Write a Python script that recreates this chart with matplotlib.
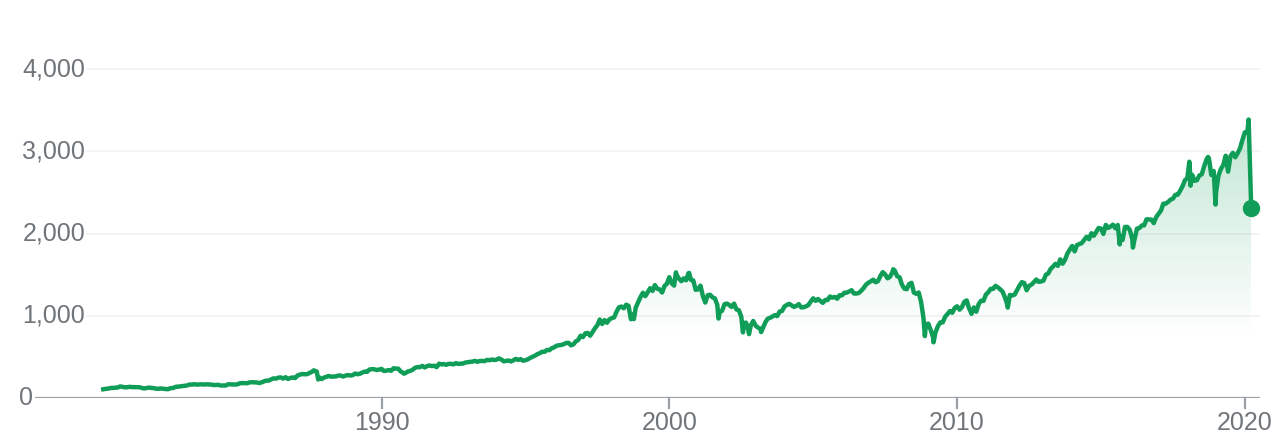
import numpy as np
import matplotlib.pyplot as plt
from matplotlib.path import Path
from matplotlib.patches import PathPatch

# Monthly closes (S&P 500 index), one row per year
start_year = 1980
monthly = [
    [114.2, 113.7, 102.1, 106.3, 111.2, 114.2, 121.7, 122.4, 125.5, 127.5, 140.5, 135.8],
    [129.6, 131.3, 136.0, 132.8, 132.6, 131.2, 130.9, 122.8, 116.2, 121.9, 126.4, 122.6],
    [120.4, 113.1, 112.0, 116.4, 111.9, 109.6, 107.1, 119.5, 120.4, 133.7, 138.5, 140.6],
    [145.3, 148.1, 153.0, 164.4, 162.4, 168.1, 162.6, 164.4, 166.1, 163.6, 166.4, 164.9],
    [163.4, 157.1, 159.2, 160.1, 150.6, 153.2, 150.7, 166.7, 166.1, 166.1, 163.6, 167.2],
    [179.6, 181.2, 180.7, 179.8, 189.6, 191.9, 190.9, 188.6, 182.1, 189.8, 202.2, 211.3],
    [211.8, 226.9, 238.9, 235.5, 247.4, 250.8, 236.1, 252.9, 231.3, 244.0, 249.2, 242.2],
    [274.1, 284.2, 291.7, 288.4, 290.1, 304.0, 318.7, 329.8, 321.8, 251.8, 230.3, 247.1],
    [257.1, 267.8, 258.9, 261.3, 262.2, 273.5, 272.0, 261.5, 271.9, 279.0, 273.7, 277.7],
    [297.5, 288.9, 294.9, 309.6, 320.5, 318.0, 346.1, 351.5, 349.2, 340.4, 346.0, 353.4],
    [329.1, 331.9, 339.9, 330.8, 361.2, 358.0, 356.2, 322.6, 306.1, 304.0, 322.2, 330.2],
    [343.9, 367.1, 375.2, 375.4, 389.8, 371.2, 387.8, 395.4, 387.9, 392.5, 375.2, 417.1],
    [408.8, 412.7, 403.7, 415.0, 415.4, 408.1, 424.2, 414.0, 417.8, 418.7, 431.4, 435.7],
    [438.8, 443.4, 451.7, 440.2, 450.2, 450.5, 448.1, 463.6, 458.9, 467.8, 461.8, 466.5],
    [481.6, 467.1, 445.8, 450.9, 456.5, 444.3, 458.3, 475.5, 462.7, 472.4, 453.7, 459.3],
    [470.4, 487.4, 500.7, 514.7, 533.4, 544.8, 562.1, 561.9, 584.4, 581.5, 605.4, 615.9],
    [636.0, 640.4, 645.5, 654.2, 669.1, 670.6, 640.0, 652.0, 687.3, 705.3, 757.0, 740.7],
    [786.2, 790.8, 757.1, 801.3, 848.3, 885.1, 954.3, 899.5, 947.3, 914.6, 955.4, 970.4],
    [980.3, 1049.3, 1101.8, 1111.8, 1090.8, 1133.8, 1120.7, 957.3, 1017.0, 1098.7, 1163.6, 1229.2],
    [1279.6, 1238.3, 1286.4, 1335.2, 1301.8, 1372.7, 1328.7, 1320.4, 1282.7, 1362.9, 1388.9, 1469.3],
    [1394.5, 1366.4, 1498.6, 1452.4, 1420.6, 1454.6, 1430.8, 1517.7, 1436.5, 1429.4, 1315.0, 1320.3],
    [1366.0, 1239.9, 1160.3, 1249.5, 1255.8, 1224.4, 1211.2, 1133.6, 1040.9, 1059.8, 1139.5, 1148.1],
    [1130.2, 1106.7, 1147.4, 1076.9, 1067.1, 989.8, 911.6, 916.1, 815.3, 885.8, 936.3, 879.8],
    [855.7, 841.2, 848.2, 916.9, 963.6, 974.5, 990.3, 1008.0, 996.0, 1050.7, 1058.2, 1111.9],
    [1131.1, 1144.9, 1126.2, 1107.3, 1120.7, 1140.8, 1101.7, 1104.2, 1114.6, 1130.2, 1173.8, 1211.9],
    [1181.3, 1203.6, 1180.6, 1156.9, 1191.5, 1191.3, 1234.2, 1220.3, 1228.8, 1207.0, 1249.5, 1248.3],
    [1280.1, 1280.7, 1294.9, 1310.6, 1270.1, 1270.2, 1276.7, 1303.8, 1335.9, 1377.9, 1400.6, 1418.3],
    [1438.2, 1406.8, 1420.9, 1482.4, 1530.6, 1503.4, 1455.3, 1474.0, 1526.8, 1549.4, 1481.1, 1468.4],
    [1378.6, 1330.6, 1322.7, 1385.6, 1400.4, 1280.0, 1267.4, 1282.8, 1166.4, 968.8, 896.2, 903.3],
    [825.9, 735.1, 797.9, 872.8, 919.1, 919.3, 987.5, 1020.6, 1057.1, 1036.2, 1095.6, 1115.1],
    [1073.9, 1104.5, 1169.4, 1186.7, 1089.4, 1030.7, 1101.6, 1049.3, 1141.2, 1183.3, 1180.6, 1257.6],
    [1286.1, 1327.2, 1325.8, 1363.6, 1345.2, 1320.6, 1292.3, 1218.9, 1131.4, 1253.3, 1247.0, 1257.6],
    [1312.4, 1365.7, 1408.5, 1397.9, 1310.3, 1362.2, 1379.3, 1406.6, 1440.7, 1412.2, 1416.2, 1426.2],
    [1498.1, 1514.7, 1569.2, 1597.6, 1630.7, 1606.3, 1685.7, 1633.0, 1681.6, 1756.5, 1805.8, 1848.4],
    [1782.6, 1859.5, 1872.3, 1884.0, 1923.6, 1960.2, 1930.7, 2003.4, 1972.3, 2018.1, 2067.6, 2058.9],
    [1995.0, 2104.5, 2067.9, 2085.5, 2107.4, 2063.1, 2103.8, 1972.2, 1920.0, 2079.4, 2080.4, 2043.9],
    [1940.2, 1932.2, 2059.7, 2065.3, 2097.0, 2098.9, 2173.6, 2171.0, 2168.3, 2126.2, 2198.8, 2238.8],
    [2278.9, 2363.6, 2362.7, 2384.2, 2411.8, 2423.4, 2470.3, 2471.7, 2519.4, 2575.3, 2647.6, 2673.6],
    [2823.8, 2713.8, 2640.9, 2648.1, 2705.3, 2718.4, 2816.3, 2901.5, 2914.0, 2711.7, 2760.2, 2506.9],
    [2704.1, 2784.5, 2834.4, 2945.8, 2752.1, 2941.8, 2980.4, 2926.5, 2976.7, 3037.6, 3141.0, 3230.8],
    [3225.5],
]

# intra-month highs and lows visible on the line (decimal year, value)
extreme_dates = [1987.65, 1987.80, 1990.78, 1998.77, 2000.23, 2000.69, 2001.71, 2002.56,
                 2002.77, 2003.19, 2007.78, 2008.88, 2009.18, 2010.50, 2011.76, 2015.65,
                 2016.11, 2018.07, 2018.11, 2018.72, 2018.98, 2020.13, 2020.22]
extreme_values = [336.8, 224.8, 295.5, 959.4, 1527.5, 1520.8, 965.8, 797.7,
                  776.8, 800.7, 1565.2, 752.4, 676.5, 1022.6, 1099.2, 1867.6,
                  1829.1, 2872.9, 2581.0, 2930.8, 2351.1, 3386.2, 2304.9]

y_ticks = [0, 1000, 2000, 3000, 4000]
y_labels = ["0", "1,000", "2,000", "3,000", "4,000"]
x_ticks = [1990, 2000, 2010, 2020]

green = "#0f9d58"
grey_text = "#70757a"

# build the series
t, v = [], []
for i, row in enumerate(monthly):
    for m, val in enumerate(row):
        t.append(start_year + i + (m + 1) / 12)
        v.append(val)
t = t[3:]
v = v[3:]
t += extreme_dates
v += extreme_values
order = np.argsort(t)
t = np.array(t)[order]
v = np.array(v)[order]

fig = plt.figure(figsize=(12.78, 4.43), dpi=100)
ax = fig.add_axes([35 / 1278, 45 / 443, 1225 / 1278, 398 / 443])
ax.set_xlim(1977.96, 2020.525)
ax.set_ylim(0, 4839)
ax.axis("off")

# grid lines
for yt in y_ticks[1:]:
    ax.axhline(yt, xmin=0.0424, xmax=1, color="#f1f1f1", lw=1.2, zorder=0)
ax.axhline(0, color="#9aa0a6", lw=1.6, zorder=3)

# gradient fill under the line
grad = np.linspace(0, 1, 256).reshape(-1, 1)
grad = np.clip((grad - 0.22) / 0.78, 0, 1)
rgba = np.zeros((256, 1, 4))
rgba[..., 0] = 15 / 255
rgba[..., 1] = 157 / 255
rgba[..., 2] = 88 / 255
rgba[..., 3] = grad[:, 0:1] * 0.26
im = ax.imshow(rgba, extent=[t[0], t[-1], 0, 3400], origin="lower",
               aspect="auto", zorder=1)
verts = [(t[0], 0)] + list(zip(t, v)) + [(t[-1], 0), (t[0], 0)]
clip = PathPatch(Path(verts), facecolor="none", edgecolor="none")
ax.add_patch(clip)
im.set_clip_path(clip)

ax.plot(t, v, color=green, lw=3.2, solid_joinstyle="round", zorder=4)
ax.plot(t[-1], v[-1], "o", color=green, markersize=11.5, zorder=5)

# y labels
for yt, lab in zip(y_ticks, y_labels):
    xl = 33 if yt == 0 else 85
    fig.text(xl / 1278, (45 + yt * 0.08225) / 443, lab, ha="right", va="center",
             fontsize=18, color=grey_text, family="Liberation Sans")

# x ticks
for xt in x_ticks:
    ax.plot([xt, xt], [0, -0.026 * 4839], color="#9aa0a6", lw=1.6, clip_on=False, zorder=3)
    ax.text(xt, -0.063 * 4839, str(xt), ha="center", va="center", fontsize=18,
            color=grey_text, family="Liberation Sans")

fig.savefig("out.png", dpi=100)
